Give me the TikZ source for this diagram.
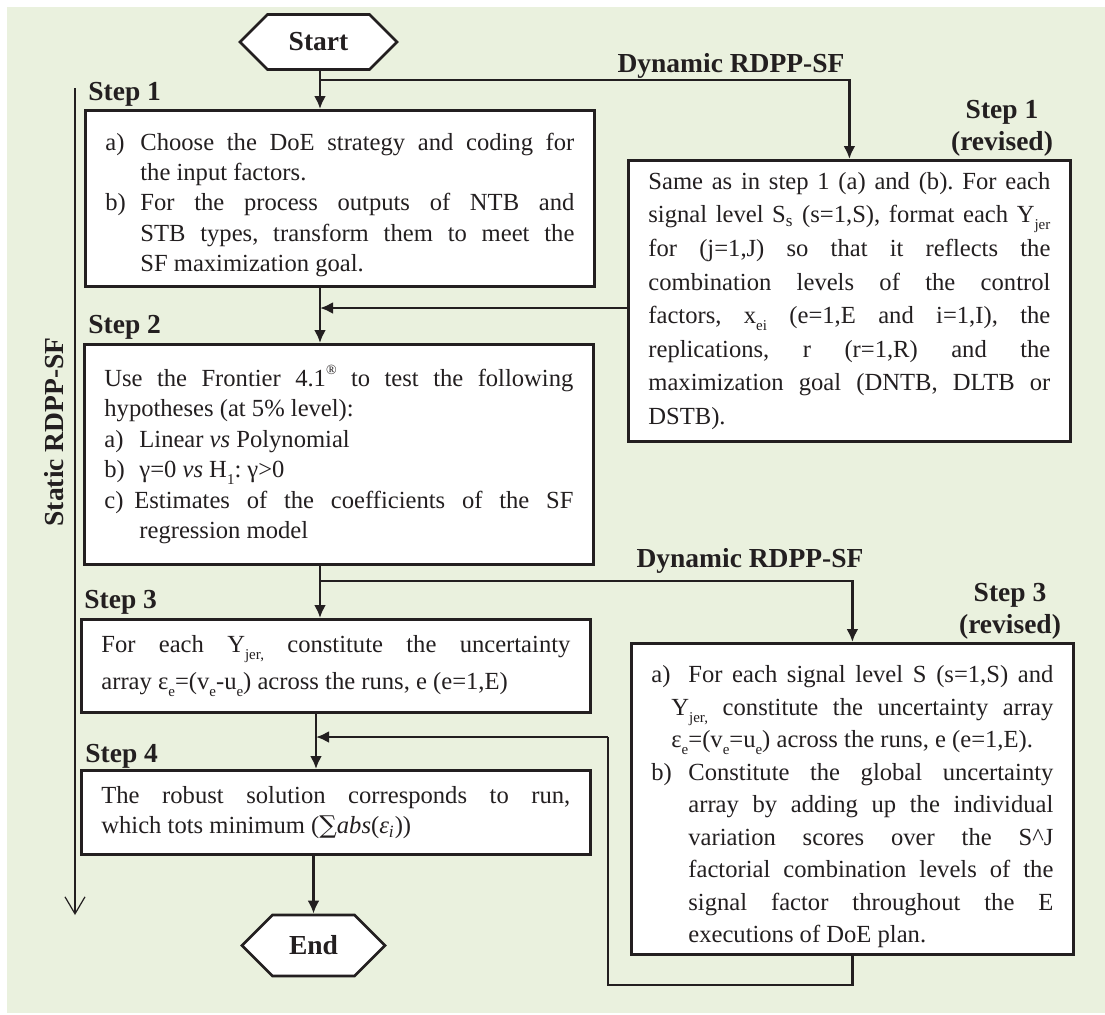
\documentclass[tikz,border=0pt]{standalone}
\usepackage{fontspec}
\setmainfont{Liberation Serif}
\newfontfamily\symfont{DejaVu Serif}
\usetikzlibrary{arrows.meta,shapes.symbols}
\definecolor{bggreen}{HTML}{EAF1DE}
\definecolor{ink}{HTML}{231F20}
\newcommand{\lowsub}[1]{\raisebox{-3.5pt}{\fontsize{7.5}{8}\selectfont #1}}
\newcommand{\regmark}{\raisebox{6pt}{\fontsize{7}{7}\selectfont\textregistered}}
\newcommand{\itm}[3]{\par\noindent\hangindent=#2\hangafter=1\makebox[#3][l]{#1}}
\hyphenpenalty=10000
\exhyphenpenalty=10000
\tolerance=9999
\hbadness=10000
\frenchspacing
\begin{document}
\begin{tikzpicture}[x=0.5pt,y=-0.5pt,line join=miter,
  every node/.style={text=ink},
  stepbox/.style={draw=ink,line width=1.4pt,fill=white,anchor=north west,
    inner xsep=10pt,inner ysep=3pt,align=justify,
    font=\fontsize{12.3}{15.2}\selectfont},
  term/.style={draw=ink,line width=1.4pt,fill=white,signal,
    signal to=west and east,signal pointer angle=90,inner sep=0pt,
    font=\fontsize{13.75}{16}\selectfont\bfseries},
  lbl/.style={font=\fontsize{13.75}{16}\selectfont\bfseries,inner sep=0pt},
  link/.style={draw=ink,line width=1.3pt,-{Latex[length=6.5pt,width=6pt]}},
  plain/.style={draw=ink,line width=1.3pt}]
\useasboundingbox (0,0) rectangle (1105,1014);
\fill[bggreen] (7,7) rectangle (1105,1013);

% terminals
\node[term,minimum width=78.5pt,minimum height=27.5pt] (start) at (318.5,42) {Start};
\node[term,minimum width=71.5pt,minimum height=30.5pt] (end) at (313.5,945.5) {End};

% static steps
\node[stepbox,text width=234.5pt,minimum height=88pt] (s1) at (84,109) {%
\itm{a)}{17.5pt}{17.5pt}Choose the DoE strategy and coding for\linebreak the input factors.
\itm{b)}{17.5pt}{17.5pt}For the process outputs of NTB and\linebreak STB types, transform them to meet the\linebreak SF maximization goal.\par};
\node[stepbox,text width=234.5pt,minimum height=110pt] (s2) at (83,343) {%
\noindent Use the Frontier 4.1\regmark{} to test the following\linebreak hypotheses (at 5\% level):
\itm{a)}{17.5pt}{17.5pt}Linear \textit{vs} Polynomial
\itm{b)}{17.5pt}{17.5pt}γ=0 \textit{vs} H\lowsub{1}: γ>0
\itm{c)}{17.5pt}{15pt}Estimates of the coefficients of the SF\linebreak regression model\par};
\node[stepbox,text width=234.5pt,minimum height=46.5pt,
  font=\fontsize{12.3}{18.5}\selectfont] (s3) at (80,618) {%
\noindent For each Y\lowsub{jer,} constitute the uncertainty\linebreak array ε\lowsub{e}=(v\lowsub{e}-u\lowsub{e}) across the runs, e (e=1,E)\par};
\node[stepbox,text width=234.5pt,minimum height=42pt] (s4) at (80,769) {%
\noindent The robust solution corresponds to run,\linebreak which tots minimum ({\symfont ∑}\textit{abs}(\textit{ε}\textsubscript{\textit{i}}))\par};

% dynamic steps
\node[stepbox,text width=201pt,minimum height=140.5pt,
  font=\fontsize{12.3}{16.8}\selectfont] (r1) at (627,159) {%
\noindent Same as in step 1 (a) and (b). For each\linebreak signal level S\textsubscript{s} (s=1,S), format each Y\lowsub{jer}\linebreak for (j=1,J) so that it reflects the\linebreak combination levels of the control\linebreak factors, x\lowsub{ei} (e=1,E and i=1,I), the\linebreak replications, r (r=1,R) and the\linebreak maximization goal (DNTB, DLTB or\linebreak DSTB).\par};
\node[stepbox,text width=201pt,minimum height=155.5pt,
  font=\fontsize{12.3}{16.25}\selectfont] (r3) at (630,642) {%
\itm{a)}{10pt}{18.5pt}For each signal level S (s=1,S) and\linebreak Y\lowsub{jer,} constitute the uncertainty array\linebreak ε\lowsub{e}=(v\lowsub{e}=u\lowsub{e}) across the runs, e (e=1,E).
\itm{b)}{18.5pt}{18.5pt}Constitute the global uncertainty\linebreak array by adding up the individual\linebreak variation scores over the S\textasciicircum J\linebreak factorial combination levels of the\linebreak signal factor throughout the E\linebreak executions of DoE plan.\par};

% labels
\node[lbl,anchor=base west] (l1) at (88,100) {Step 1};
\node[lbl,anchor=base west] (l2) at (88,333) {Step 2};
\node[lbl,anchor=base west] (l3) at (84,608) {Step 3};
\node[lbl,anchor=base west] (l4) at (85,762) {Step 4};
\node[lbl,align=center,anchor=south] (lr1) at (1002,157) {Step 1\\(revised)};
\node[lbl,align=center,anchor=south] (lr3) at (1010,640) {Step 3\\(revised)};
\node[lbl,anchor=base] (dyn1) at (731,72) {Dynamic RDPP-SF};
\node[lbl,anchor=base] (dyn3) at (750,567) {Dynamic RDPP-SF};
\node[lbl,rotate=90] (stat) at (54,432) {Static RDPP-SF};

% junctions
\coordinate (b1) at (320,80);
\coordinate (j1) at (320,308);
\coordinate (b3) at (320,581);
\coordinate (j3) at (316,737);
\coordinate (fb) at (608,985);
\coordinate (st1) at (75,88);
\coordinate (st2) at (75,915);

% connectors
\draw[link] (start.south -| b1) -- (s1.north -| b1);
\draw[link] (b1) -| (r1.north);
\draw[link] (j1 -| r1.west) -- (j1);
\draw[link] (s1.south -| b1) -- (s2.north -| b1);
\draw[link] (s2.south -| b3) -- (s3.north -| b3);
\draw[link] (b3) -| (r3.north);
\draw[link] (s3.south -| j3) -- (s4.north -| j3);
\draw[plain] (r3.south) |- (fb) |- (j3 -| fb);
\draw[link] (j3 -| fb) -- (j3);
\draw[link] (s4.south -| end) -- (end.north);
\draw[draw=ink,line width=1.2pt,-{Straight Barb[length=8.5pt,width=10pt,line width=0.6pt]}] (st1) -- (st2);
\end{tikzpicture}
\end{document}
